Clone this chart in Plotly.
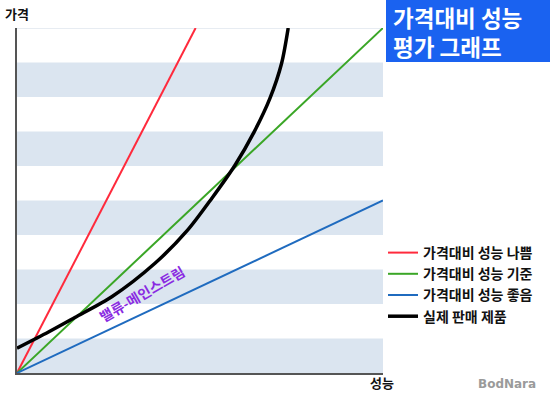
import plotly.graph_objects as go

# ---- data (x: 성능, y: 가격, both on 0-10 scale) ----
bad_x = [0, 4.88]
bad_y = [0, 10]
std_x = [0, 10]
std_y = [0, 10]
good_x = [0, 10]
good_y = [0, 5.0]
real_x = [0, 0.86, 1.58, 2.59, 3.77, 4.66, 5.32, 5.96, 6.48, 6.91, 7.23, 7.41]
real_y = [0.72, 1.19, 1.61, 2.21, 3.18, 4.14, 5.06, 6.03, 6.99, 7.96, 8.98, 10.0]

names = ["가격대비 성능 나쁨", "가격대비 성능 기준", "가격대비 성능 좋음", "실제 판매 제품"]
band_rows = [0, 2, 4, 6, 8]

FONT = "Noto Sans CJK KR"

fig = go.Figure()
fig.add_trace(go.Scatter(x=bad_x, y=bad_y, mode="lines", name=names[0],
                         line=dict(color="#ff2a3c", width=2)))
fig.add_trace(go.Scatter(x=std_x, y=std_y, mode="lines", name=names[1],
                         line=dict(color="#3aa626", width=2)))
fig.add_trace(go.Scatter(x=good_x, y=good_y, mode="lines", name=names[2],
                         line=dict(color="#1f6bbf", width=2)))
fig.add_trace(go.Scatter(x=real_x, y=real_y, mode="lines", name=names[3],
                         line=dict(color="#000000", width=3.5, shape="spline", smoothing=0.8)))

shapes = []
for r in band_rows:
    shapes.append(dict(type="rect", xref="x", yref="y", x0=0, x1=10, y0=r, y1=r + 1,
                       fillcolor="#dbe5f0", line=dict(width=0), layer="below"))
shapes.append(dict(type="line", xref="x", yref="y", x0=0, x1=10, y0=10, y1=10,
                   line=dict(color="#d0dae6", width=1), layer="below"))
# title box
shapes.append(dict(type="rect", xref="paper", yref="paper",
                   x0=(386 - 17) / 366, x1=(552 - 17) / 366,
                   y0=(373 - 62) / 345, y1=(373 + 30) / 345,
                   fillcolor="#1a62f0", line=dict(width=0)))

annotations = [
    dict(text="<b>가격대비 성능<br>평가 그래프</b>", xref="paper", yref="paper",
         x=(391 - 17) / 366, y=(373 - 31.5) / 345, xanchor="left", yanchor="middle",
         align="left", showarrow=False,
         font=dict(family=FONT, size=22.5, color="white")),
    dict(text="<b>가격</b>", xref="paper", yref="paper",
         x=(3 - 17) / 366, y=(373 - 13) / 345, xanchor="left", yanchor="middle",
         showarrow=False, font=dict(family=FONT, size=13, color="#111")),
    dict(text="<b>성능</b>", xref="paper", yref="paper",
         x=(382 - 17) / 366, y=(373 - 383) / 345, xanchor="center", yanchor="middle",
         showarrow=False, font=dict(family=FONT, size=13, color="#111")),
    dict(text="<b>BodNara</b>", xref="paper", yref="paper",
         x=(507 - 17) / 366, y=(373 - 384) / 345, xanchor="center", yanchor="middle",
         showarrow=False, font=dict(family="DejaVu Sans", size=12, color="#9a9a9a")),
    dict(text="<b>밸류-메인스트림</b>", xref="x", yref="y",
         x=(141 - 17) / 36.6, y=(373 - 293.5) / 34.5, xanchor="center", yanchor="middle",
         showarrow=False, textangle=-30,
         font=dict(family=FONT, size=14, color="#8a2be2")),
]

fig.update_layout(
    width=550, height=400,
    margin=dict(l=17, r=167, t=28, b=27),
    paper_bgcolor="white", plot_bgcolor="white",
    shapes=shapes, annotations=annotations,
    showlegend=True,
    legend=dict(x=(383 - 17) / 366, y=(373 - 237) / 345, xanchor="left", yanchor="top",
                font=dict(family=FONT, size=14, color="#111", weight="bold"),
                bgcolor="rgba(0,0,0,0)", tracegroupgap=0, itemwidth=30),
    font=dict(family=FONT),
)
fig.update_xaxes(range=[0, 10], showgrid=False, zeroline=False, showticklabels=False,
                 ticks="", showline=True, linecolor="#555", linewidth=2)
fig.update_yaxes(range=[0, 10], showgrid=False, zeroline=False, showticklabels=False,
                 ticks="", showline=True, linecolor="#555", linewidth=2)

fig.write_html("out.html", config={"displayModeBar": False},
               post_script="document.body.style.margin='0';")
